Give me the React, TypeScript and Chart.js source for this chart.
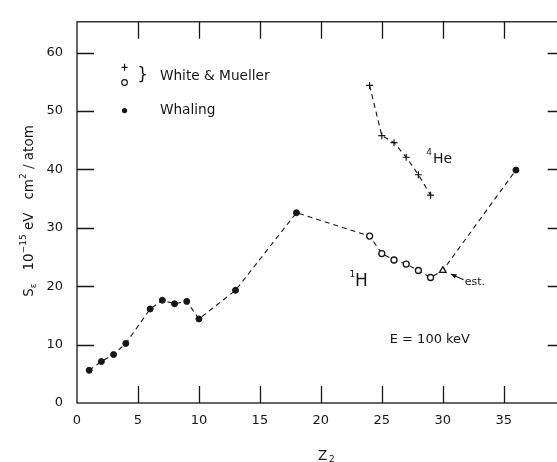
import React, { useEffect, useRef } from "react";
import { Chart, registerables } from "chart.js";
Chart.register(...registerables);

// Whaling (filled dots)
const whalingZ = [1, 2, 3, 4, 6, 7, 8, 9, 10, 13, 18, 36];
const whalingS = [5.6, 7.1, 8.3, 10.2, 16.1, 17.6, 17.0, 17.4, 14.4, 19.3, 32.6, 39.9];
// White & Mueller, 1H (open circles)
const hZ = [24, 25, 26, 27, 28, 29];
const hS = [28.6, 25.6, 24.5, 23.8, 22.7, 21.5];
// estimate (open triangle)
const estZ = [30];
const estS = [22.7];
// White & Mueller, 4He (crosses)
const heZ = [24, 25, 26, 27, 28, 29];
const heS = [54.4, 45.8, 44.6, 42.1, 39.1, 35.6];
// axis ticks
const xTicks = [0, 5, 10, 15, 20, 25, 30, 35];
const yTicks = [0, 10, 20, 30, 40, 50, 60];

const FONT = "'DejaVu Sans', sans-serif";
const INK = "#161616";

const pts = (xs: number[], ys: number[]) => xs.map((x, i) => ({ x, y: ys[i] }));

const annotationPlugin = {
  id: "annotations",
  afterDraw(chart: any) {
    const ctx = chart.ctx as CanvasRenderingContext2D;
    const xs = chart.scales.x;
    const ys = chart.scales.y;
    const a = chart.chartArea;
    const px = (v: number) => xs.getPixelForValue(v);
    const py = (v: number) => ys.getPixelForValue(v);
    ctx.save();
    ctx.strokeStyle = INK;
    ctx.fillStyle = INK;
    ctx.lineWidth = 1.3;
    // frame
    ctx.strokeRect(a.left, a.top, a.right - a.left, a.bottom - a.top);
    // inward ticks
    const tl = 17;
    ctx.beginPath();
    xTicks.forEach((v) => {
      if (v === 0) return;
      const x = Math.round(px(v)) + 0.5;
      ctx.moveTo(x, a.bottom);
      ctx.lineTo(x, a.bottom - tl);
      ctx.moveTo(x, a.top);
      ctx.lineTo(x, a.top + tl);
    });
    yTicks.forEach((v) => {
      if (v === 0) return;
      const y = Math.round(py(v)) + 0.5;
      ctx.moveTo(a.left, y);
      ctx.lineTo(a.left + tl, y);
      ctx.moveTo(a.right, y);
      ctx.lineTo(a.right - tl, y);
    });
    ctx.stroke();

    // legend
    ctx.lineWidth = 1.2;
    const lx = px(3.9);
    const plusY = py(57.5);
    ctx.beginPath();
    ctx.moveTo(lx - 3, plusY);
    ctx.lineTo(lx + 3, plusY);
    ctx.moveTo(lx, plusY - 3.5);
    ctx.lineTo(lx, plusY + 3.5);
    ctx.stroke();
    ctx.beginPath();
    ctx.arc(lx, py(54.9), 2.8, 0, Math.PI * 2);
    ctx.stroke();
    ctx.beginPath();
    ctx.arc(lx, py(50.1), 2.6, 0, Math.PI * 2);
    ctx.fill();

    ctx.textBaseline = "middle";
    ctx.textAlign = "left";
    ctx.font = `17px ${FONT}`;
    ctx.fillText("}", px(4.95), py(56.1));
    ctx.font = `13.7px ${FONT}`;
    ctx.fillText("White & Mueller", px(6.8), py(55.9));
    ctx.fillText("Whaling", px(6.8), py(50.1));
    ctx.font = `13px ${FONT}`;
    ctx.fillText("E = 100 keV", px(25.65), py(10.9));

    // 4He label
    ctx.textBaseline = "alphabetic";
    ctx.font = `9px ${FONT}`;
    ctx.fillText("4", px(28.65), py(42.5));
    ctx.font = `14px ${FONT}`;
    ctx.fillText("He", px(29.2), py(41.1));
    // 1H label
    ctx.font = `9px ${FONT}`;
    ctx.fillText("1", px(22.35), py(21.5));
    ctx.font = `17px ${FONT}`;
    ctx.fillText("H", px(22.8), py(20.1));
    // est.
    ctx.font = `11px ${FONT}`;
    ctx.fillText("est.", px(31.8), py(20.2));
    // arrow
    const ax0 = px(31.7), ay0 = py(21.1);
    const ax1 = px(30.66), ay1 = py(22.1);
    ctx.lineWidth = 1.2;
    ctx.beginPath();
    ctx.moveTo(ax0, ay0);
    ctx.lineTo(ax1, ay1);
    ctx.stroke();
    const ang = Math.atan2(ay1 - ay0, ax1 - ax0);
    ctx.beginPath();
    ctx.moveTo(ax1, ay1);
    ctx.lineTo(ax1 - 6 * Math.cos(ang - 0.4), ay1 - 6 * Math.sin(ang - 0.4));
    ctx.lineTo(ax1 - 6 * Math.cos(ang + 0.4), ay1 - 6 * Math.sin(ang + 0.4));
    ctx.closePath();
    ctx.fill();

    // x axis title Z2
    ctx.font = `13.5px ${FONT}`;
    ctx.fillText("Z", 318, 460);
    ctx.font = `9px ${FONT}`;
    ctx.fillText("2", 329, 462);

    // y axis title (rotated)
    ctx.translate(33, 211);
    ctx.rotate(-Math.PI / 2);
    const parts: [string, number, number][] = [
      ["S", 13.5, 0],
      ["\u03b5", 9, 3],
      ["   10", 13.5, 0],
      ["\u221215", 9, -7],
      [" eV   cm", 13.5, 0],
      ["2", 9, -7],
      [" / atom", 13.5, 0],
    ];
    let total = 0;
    parts.forEach(([t, s]) => {
      ctx.font = `${s}px ${FONT}`;
      total += ctx.measureText(t).width;
    });
    let cx = -total / 2;
    parts.forEach(([t, s, dy]) => {
      ctx.font = `${s}px ${FONT}`;
      ctx.fillText(t, cx, dy);
      cx += ctx.measureText(t).width;
    });
    ctx.restore();
  },
};

export default function App() {
  const ref = useRef<HTMLCanvasElement | null>(null);
  useEffect(() => {
    if (!ref.current) return;
    const curveZ: number[] = [];
    const curveS: number[] = [];
    const all = [
      ...pts(whalingZ, whalingS),
      ...pts(hZ, hS),
      ...pts(estZ, estS),
    ].sort((p, q) => p.x - q.x);
    all.forEach((p) => {
      curveZ.push(p.x);
      curveS.push(p.y);
    });
    const chart = new Chart(ref.current, {
      type: "scatter",
      data: {
        datasets: [
          {
            data: pts(curveZ, curveS),
            showLine: true,
            borderColor: INK,
            borderWidth: 1.1,
            borderDash: [5, 4],
            pointRadius: 0,
            order: 2,
          },
          {
            data: pts(heZ, heS),
            showLine: true,
            borderColor: INK,
            borderWidth: 1.1,
            borderDash: [5, 4],
            pointRadius: 0,
            order: 2,
          },
          {
            data: pts(whalingZ, whalingS),
            pointStyle: "circle",
            pointRadius: 3,
            backgroundColor: INK,
            borderColor: INK,
            borderWidth: 1,
            order: 1,
          },
          {
            data: pts(hZ, hS),
            pointStyle: "circle",
            pointRadius: 3,
            backgroundColor: "#ffffff",
            borderColor: INK,
            borderWidth: 1.3,
            order: 1,
          },
          {
            data: pts(estZ, estS),
            pointStyle: "triangle",
            pointRadius: 3.8,
            backgroundColor: "#ffffff",
            borderColor: INK,
            borderWidth: 1.3,
            order: 1,
          },
          {
            data: pts(heZ, heS),
            pointStyle: "cross",
            pointRadius: 3.5,
            backgroundColor: INK,
            borderColor: INK,
            borderWidth: 1.2,
            order: 1,
          },
        ],
      },
      options: {
        responsive: false,
        animation: false,
        layout: { padding: { left: 0, top: 9, right: 5, bottom: 0 } },
        plugins: { legend: { display: false }, tooltip: { enabled: false } },
        scales: {
          x: {
            type: "linear",
            min: 0,
            max: 40,
            afterBuildTicks: (s: any) => {
              s.ticks = xTicks.map((v) => ({ value: v }));
            },
            afterFit: (s: any) => {
              s.height = 59;
            },
            grid: { display: false, drawTicks: false },
            border: { display: false },
            ticks: {
              padding: 10,
              color: INK,
              font: { family: FONT, size: 13 },
              maxRotation: 0,
              autoSkip: false,
            },
          },
          y: {
            type: "linear",
            min: 0,
            max: 65.3,
            afterBuildTicks: (s: any) => {
              s.ticks = yTicks.map((v) => ({ value: v }));
            },
            afterFit: (s: any) => {
              s.width = 77;
            },
            grid: { display: false, drawTicks: false },
            border: { display: false },
            ticks: {
              padding: 14,
              color: INK,
              font: { family: FONT, size: 13 },
              autoSkip: false,
            },
          },
        },
      },
      plugins: [annotationPlugin],
    } as any);
    return () => chart.destroy();
  }, []);
  return (
    <div
      style={{
        position: "fixed",
        left: 0,
        top: 0,
        width: 557,
        height: 462,
        overflow: "hidden",
        background: "#ffffff",
      }}
    >
      <canvas ref={ref} width={570} height={462} style={{ display: "block" }} />
    </div>
  );
}
